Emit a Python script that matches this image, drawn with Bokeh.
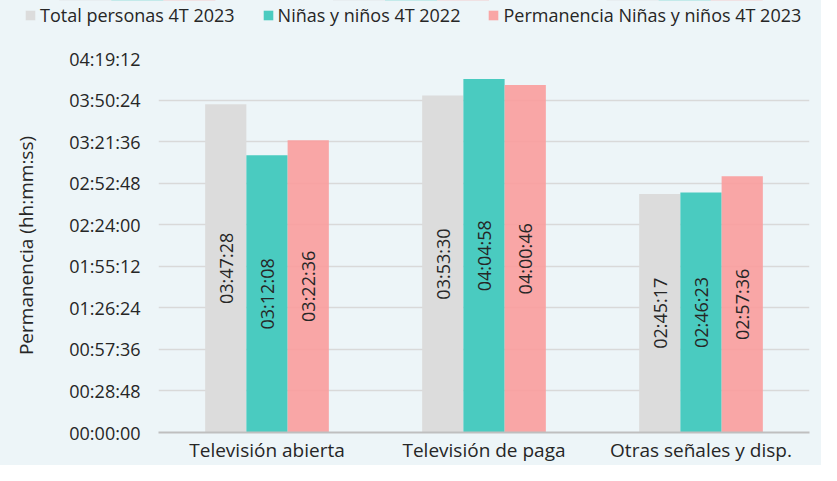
import math
from bokeh.plotting import figure
from bokeh.layouts import column
from bokeh.models import ColumnDataSource, FactorRange, Range1d, FixedTicker, Legend, LegendItem
from bokeh.transform import dodge
from bokeh.core.properties import value
from bokeh.embed import file_html
from bokeh.resources import INLINE

categories = ["Televisión abierta", "Televisión de paga", "Otras señales y disp."]
series_names = ["Total personas 4T 2023", "Niñas y niños 4T 2022", "Permanencia Niñas y niños 4T 2023"]
total_2023 = ["03:47:28", "03:53:30", "02:45:17"]
ninos_2022 = ["03:12:08", "04:04:58", "02:46:23"]
perm_2023 = ["03:22:36", "04:00:46", "02:57:36"]
tick_labels = ["00:00:00", "00:28:48", "00:57:36", "01:26:24", "01:55:12",
               "02:24:00", "02:52:48", "03:21:36", "03:50:24", "04:19:12"]
y_axis_title = "Permanencia (hh:mm:ss)"


def to_sec(s):
    h, m, sec = s.split(":")
    return int(h) * 3600 + int(m) * 60 + int(sec)


tick_values = [to_sec(t) for t in tick_labels]

BG = "#EDF5F8"
TXT = "#262626"
FONT = "Open Sans"
colors = ["#DCDCDC", "#4ACBC0", "#FA9E9E"]
alphas = [1.0, 1.0, 0.92]
offsets = [-0.19, 0.0, 0.19]
all_series = [total_2023, ninos_2022, perm_2023]

W = 821
LEG_H = 30
MAIN_H = 465 - LEG_H

sources = []
for vals in all_series:
    secs = [to_sec(v) for v in vals]
    sources.append(ColumnDataSource(dict(cat=categories, val=secs,
                                         half=[s / 2 for s in secs], lab=vals)))

# --- legend strip (shares the data; its view shows no bars) ---
pl = figure(width=W, height=LEG_H, x_range=FactorRange(*categories), y_range=Range1d(-2, -1),
            output_backend="svg", toolbar_location=None,
            x_axis_location=None, y_axis_location=None,
            min_border=0, min_border_left=0, min_border_right=0,
            min_border_top=0, min_border_bottom=0)
pl.frame_align = False
pl.background_fill_color = BG
pl.border_fill_color = BG
pl.outline_line_color = None
pl.grid.grid_line_color = None

items = []
for name, src, col, a, off in zip(series_names, sources, colors, alphas, offsets):
    r = pl.vbar(x=dodge("cat", off, range=pl.x_range), top="val", width=0.19, source=src,
                fill_color=col, fill_alpha=a, line_color=None)
    items.append(LegendItem(label=name, renderers=[r]))

legend = Legend(items=items, orientation="horizontal", location=(24, 3),
                glyph_width=12, glyph_height=12, label_standoff=4, spacing=27, padding=0,
                margin=0, background_fill_alpha=0, border_line_color=None,
                label_text_font=FONT, label_text_font_size="18px", label_text_color=TXT)
pl.add_layout(legend, "center")

# --- main chart ---
p = figure(x_range=FactorRange(*categories), y_range=Range1d(0, tick_values[-1]),
           width=W, height=MAIN_H, output_backend="svg", toolbar_location=None,
           min_border_left=158, min_border_right=12, min_border_top=58 - LEG_H,
           min_border_bottom=31)
p.frame_align = False
p.background_fill_color = BG
p.border_fill_color = BG
p.outline_line_color = None

for src, col, a, off in zip(sources, colors, alphas, offsets):
    p.vbar(x=dodge("cat", off, range=p.x_range), top="val", width=0.19, source=src,
           fill_color=col, fill_alpha=a, line_color=None)
    p.text(x=dodge("cat", off, range=p.x_range), y="half", text="lab", source=src,
           angle=math.pi / 2, text_align="center", text_baseline="middle",
           text_font=value(FONT), text_font_size="18px", text_color=TXT)

p.yaxis.ticker = FixedTicker(ticks=tick_values)
p.yaxis.major_label_overrides = {v: l for v, l in zip(tick_values, tick_labels)}
p.yaxis.axis_label = y_axis_title
p.yaxis.axis_label_text_font = FONT
p.yaxis.axis_label_text_font_size = "19px"
p.yaxis.axis_label_text_font_style = "normal"
p.yaxis.axis_label_text_color = TXT
p.yaxis.axis_label_standoff = 27
p.yaxis.major_label_text_font = FONT
p.yaxis.major_label_text_font_size = "18px"
p.yaxis.major_label_text_color = TXT
p.yaxis.major_label_standoff = 18
p.yaxis.axis_line_color = None
p.yaxis.major_tick_line_color = None
p.yaxis.minor_tick_line_color = None
p.yaxis.major_tick_out = 0
p.yaxis.major_tick_in = 0

p.xaxis.major_label_text_font = FONT
p.xaxis.major_label_text_font_size = "19px"
p.xaxis.major_label_text_color = TXT
p.xaxis.major_label_standoff = 4
p.xaxis.axis_line_color = "#BFBFBF"
p.xaxis.axis_line_width = 2
p.xaxis.major_tick_line_color = None
p.xaxis.minor_tick_line_color = None
p.xaxis.major_tick_out = 0
p.xaxis.major_tick_in = 0

p.xgrid.grid_line_color = None
p.ygrid.grid_line_color = "#D9D9D9"
p.ygrid.grid_line_width = 1.5

layout = column(pl, p, spacing=0)
layout.styles = {"background-color": BG}
open("out.html", "w").write(file_html(layout, INLINE))
